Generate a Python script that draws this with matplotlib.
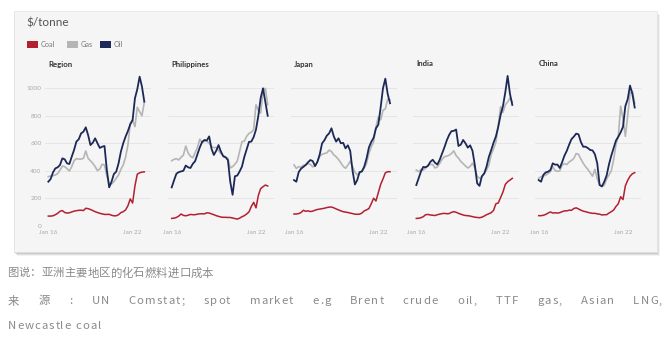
import matplotlib
matplotlib.use("Agg")
import matplotlib.pyplot as plt
from matplotlib.patches import Rectangle
from matplotlib import font_manager, ft2font
import numpy as np

# ---------------- data (bi-monthly, Jan 2016 .. Nov 2022, $/tonne) ----------------
panels = ["Region", "Philippines", "Japan", "India", "China"]
series_names = ["Coal", "Gas", "Oil"]
start_year = 2016
n_points = 42

region_oil = [320, 340, 388, 417, 425, 442, 490, 483, 454, 449, 502, 551, 612, 629, 672, 684, 716, 660, 587, 604, 636,
              600, 566, 575, 580, 405, 279, 320, 376, 393, 454, 539, 600, 648, 689, 738, 769, 927, 993, 1085, 1012, 903]
region_gas = [357, 362, 364, 369, 379, 405, 434, 430, 415, 398, 430, 473, 488, 485, 485, 490, 544, 490, 473, 454, 430,
              400, 413, 447, 442, 362, 308, 303, 320, 345, 369, 410, 442, 498, 587, 745, 769, 721, 862, 830, 800, 900]
region_coal = [70, 70, 72, 80, 90, 105, 110, 96, 92, 94, 100, 106, 109, 112, 113, 110, 127, 124, 118, 110, 102,
               96, 90, 86, 82, 82, 83, 76, 72, 72, 80, 95, 102, 115, 145, 195, 165, 290, 375, 385, 390, 392]

phil_oil = [279, 330, 378, 390, 395, 400, 438, 425, 420, 450, 470, 520, 570, 610, 624, 620, 650, 560, 515, 545, 587,
            540, 505, 498, 478, 320, 225, 360, 365, 395, 430, 500, 555, 610, 612, 645, 700, 800, 930, 1000, 900, 800]
phil_gas = [473, 483, 488, 478, 498, 514, 580, 530, 505, 495, 530, 570, 630, 605, 615, 615, 600, 575, 568, 570, 548,
            525, 512, 500, 490, 420, 430, 448, 470, 540, 612, 615, 650, 672, 680, 700, 880, 840, 820, 980, 1000, 880]
phil_coal = [53, 55, 60, 70, 85, 75, 72, 76, 82, 80, 80, 84, 86, 87, 86, 94, 92, 86, 80, 73, 68,
             63, 61, 61, 60, 60, 56, 52, 48, 55, 65, 73, 85, 100, 140, 170, 130, 220, 270, 284, 296, 289]

japan_oil = [332, 320, 390, 415, 428, 442, 462, 478, 470, 434, 465, 520, 600, 622, 655, 672, 709, 650, 612, 636, 600,
             603, 563, 585, 545, 400, 300, 332, 390, 395, 430, 490, 570, 610, 640, 709, 735, 860, 1000, 1070, 960, 891]
japan_gas = [442, 417, 430, 426, 440, 442, 452, 446, 428, 435, 465, 505, 520, 525, 530, 550, 540, 515, 502, 482, 458,
             432, 418, 440, 470, 430, 390, 370, 382, 395, 420, 454, 527, 575, 610, 720, 790, 770, 840, 850, 920, 915]
japan_coal = [85, 85, 88, 96, 112, 105, 108, 103, 106, 113, 118, 121, 124, 127, 132, 135, 136, 130, 122, 115, 108,
              102, 99, 96, 92, 88, 84, 83, 84, 92, 108, 115, 125, 160, 200, 180, 240, 300, 340, 385, 393, 393]

india_oil = [296, 345, 395, 428, 425, 436, 465, 480, 458, 445, 480, 525, 570, 620, 660, 688, 690, 700, 580, 590, 624,
             600, 568, 585, 545, 440, 308, 290, 360, 380, 430, 502, 551, 605, 650, 720, 806, 870, 970, 1090, 960, 879]
india_gas = [405, 393, 410, 405, 420, 440, 447, 445, 420, 428, 454, 483, 502, 506, 513, 525, 545, 510, 492, 468, 452,
             435, 420, 432, 455, 420, 360, 345, 355, 378, 405, 442, 520, 560, 610, 730, 866, 825, 880, 900, 930, 900]
india_coal = [53, 54, 58, 66, 80, 82, 78, 76, 74, 80, 84, 88, 90, 87, 88, 97, 102, 98, 90, 84, 78,
              74, 73, 70, 66, 62, 60, 58, 62, 70, 80, 87, 95, 112, 160, 165, 205, 245, 300, 320, 332, 345]

china_oil = [332, 320, 370, 388, 393, 405, 454, 444, 445, 420, 462, 510, 545, 590, 630, 648, 670, 665, 610, 575, 575,
             565, 551, 548, 520, 455, 296, 286, 320, 365, 445, 510, 565, 620, 648, 680, 720, 870, 920, 1020, 960, 860]
china_gas = [345, 357, 362, 368, 380, 393, 430, 402, 395, 400, 440, 452, 445, 464, 475, 490, 525, 520, 485, 455, 430,
             410, 385, 360, 410, 340, 300, 285, 295, 340, 370, 400, 480, 590, 650, 870, 780, 650, 800, 960, 980, 890]
china_coal = [73, 73, 76, 82, 92, 100, 92, 94, 92, 95, 102, 108, 108, 113, 112, 125, 130, 122, 113, 106, 102,
              97, 93, 90, 90, 86, 84, 78, 80, 80, 92, 102, 114, 140, 160, 211, 190, 290, 330, 360, 378, 386]

y_ticks = [0, 200, 400, 600, 800, 1000]
x_tick_years = [2016, 2022]
x_tick_labels = ["Jan 16", "Jan 22"]

unit_label = "$/tonne"
caption = "图说：亚洲主要地区的化石燃料进口成本"
source_words = ["来", "源", ":", "UN", "Comstat;", "spot", "market", "e.g", "Brent", "crude", "oil,",
                "TTF", "gas,", "Asian", "LNG,"]
source_line2 = "Newcastle coal"

# ---------------- styling ----------------
W, H = 670, 343
DPI = 100
COL = {"Coal": "#b3202f", "Gas": "#b5b5b5", "Oil": "#1c2957"}
CARD = "#f5f5f5"
CHART_FONT = ["Lato", "DejaVu Sans"]
CJK_FONT = ["Noto Sans CJK SC", "DejaVu Sans"]

fig = plt.figure(figsize=(W / DPI, H / DPI), dpi=DPI)
fig.patch.set_facecolor("white")


def fx(x):
    return x / W


def fy(y):
    return 1 - y / H


# card with shadow
card_l, card_t, card_r, card_b = 14, 11, 657, 252
for i, a in enumerate([0.05, 0.07, 0.10, 0.16]):
    off = 4 - i
    fig.patches.append(Rectangle((fx(card_l + off - 1), fy(card_b + off)),
                                 (card_r - card_l) / W, (card_b - card_t) / H,
                                 transform=fig.transFigure, facecolor="black", alpha=a,
                                 edgecolor="none", zorder=0))
fig.patches.append(Rectangle((fx(card_l), fy(card_b)), (card_r - card_l) / W, (card_b - card_t) / H,
                             transform=fig.transFigure, facecolor=CARD, edgecolor="#e6e6e6",
                             linewidth=0.5, zorder=1))

fig.text(fx(26), fy(23), unit_label, fontsize=8.5, color="#555555", family=CHART_FONT,
         va="center", ha="left", zorder=5)

# legend
leg_x = [27, 67, 100]
for name, lx in zip(series_names, leg_x):
    fig.patches.append(Rectangle((fx(lx), fy(48)), 11 / W, 7 / H, transform=fig.transFigure,
                                 facecolor=COL[name], edgecolor="none", zorder=5))
    fig.text(fx(lx + 13.5), fy(44.5), name, fontsize=5.3, color="#777777", family=CHART_FONT,
             va="center", ha="left", zorder=5)

data = {
    "Region": (region_coal, region_gas, region_oil),
    "Philippines": (phil_coal, phil_gas, phil_oil),
    "Japan": (japan_coal, japan_gas, japan_oil),
    "India": (india_coal, india_gas, india_oil),
    "China": (china_coal, china_gas, china_oil),
}

x = start_year + np.arange(n_points) * 2 / 12.0
px_per_year = 14.05
data_starts = [48.3, 171.7, 294.0, 416.3, 538.7]
pad_l_px, width_px = 3.3, 106
y0_px, px_per_unit = 225.7, 0.1374
ymax = 1100
ax_top_px = y0_px - ymax * px_per_unit

for k, (pname, xs) in enumerate(zip(panels, data_starts)):
    left_px = xs - pad_l_px
    ax = fig.add_axes([fx(left_px), fy(y0_px), width_px / W, (y0_px - ax_top_px) / H], zorder=3)
    ax.set_facecolor("none")
    ax.set_xlim(start_year - pad_l_px / px_per_year, start_year + (width_px - pad_l_px) / px_per_year)
    ax.set_ylim(0, ymax)
    for s in ax.spines.values():
        s.set_visible(False)
    ax.set_yticks(y_ticks)
    ax.grid(axis="y", color="#e3e3e3", linewidth=0.6)
    ax.set_axisbelow(True)
    ax.tick_params(axis="both", length=0, labelsize=4.6, labelcolor="#aaaaaa", pad=2.5)
    if k == 0:
        ax.set_yticklabels([str(v) for v in y_ticks], family=CHART_FONT)
    else:
        ax.set_yticklabels([])
    ax.set_xticks(x_tick_years)
    ax.set_xticklabels(x_tick_labels, family=CHART_FONT)
    ax.tick_params(axis="x", pad=3)

    coal, gas, oil = data[pname]
    ax.plot(x, gas, color=COL["Gas"], linewidth=1.2, solid_joinstyle="round", clip_on=False)
    ax.plot(x, oil, color=COL["Oil"], linewidth=1.3, solid_joinstyle="round", clip_on=False)
    ax.plot(x, coal, color=COL["Coal"], linewidth=1.1, solid_joinstyle="round", clip_on=False)

    fig.text(fx(xs), fy(64), pname, fontsize=5.6, fontweight="bold", color="#333333",
             family=CHART_FONT, va="center", ha="left", zorder=5)

# ---------------- captions below the card (letter-spaced, justified) ----------------
TXT = "#8a8a8a"
FS = 8.2
_font_path = font_manager.findfont(font_manager.FontProperties(family="Noto Sans CJK SC"))
_ft = ft2font.FT2Font(_font_path)
_ft.set_size(FS, DPI)


def advance(ch):
    g = _ft.load_char(ord(ch), flags=ft2font.LoadFlags.NO_HINTING)
    return g.linearHoriAdvance / 65536.0


def tracked_word(word, y, tracking):
    items = []
    cur = 0.0
    for ch in word:
        a = advance(ch)
        if ch != " ":
            t = fig.text(0, fy(y), ch, fontsize=FS, color=TXT, family=CJK_FONT, va="center", ha="center")
            items.append((t, cur + a / 2))
        cur += a + tracking
    return items, cur - tracking


def place(items, x0):
    for t, off in items:
        t.set_x(fx(x0 + off))


cap_items, _ = tracked_word(caption, 273, 0.1)
place(cap_items, 7)

words = [tracked_word(w, 301, 1.1) for w in source_words]
line_l, line_r = 8, 662
total = sum(wd for _, wd in words)
gap = (line_r - line_l - total) / (len(words) - 1)
cur = line_l
for items, wd in words:
    place(items, cur)
    cur += wd + gap

nc_items, _ = tracked_word(source_line2, 326, 1.0)
place(nc_items, 8)

fig.savefig("out.png", dpi=DPI, facecolor="white")
